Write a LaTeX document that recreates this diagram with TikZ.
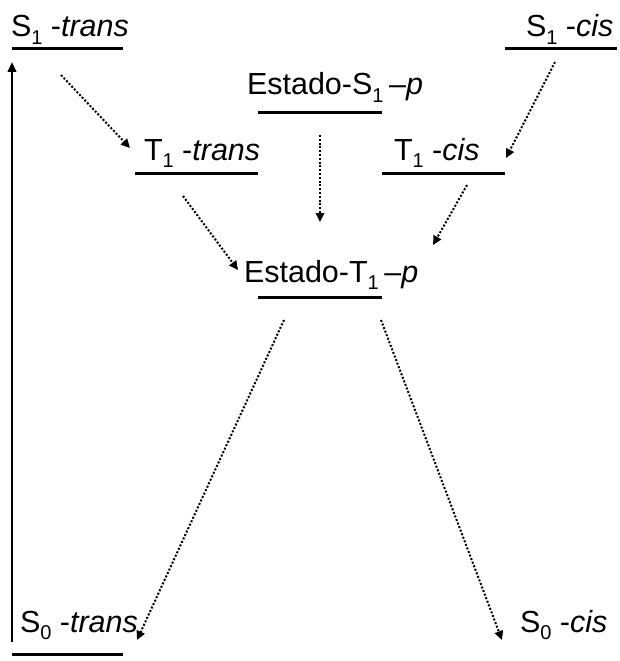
\documentclass[tikz,border=0pt]{standalone}
\usepackage{fontspec}
\setmainfont{Liberation Sans}
\usetikzlibrary{arrows.meta}
\newcommand\lowsub[1]{\raisebox{-0.26em}{\fontsize{20}{22}\selectfont #1}}
\begin{document}
\begin{tikzpicture}[x=1pt,y=-1pt,
  lbl/.style={anchor=base west, inner sep=0, outer sep=0, font=\fontsize{30.5}{36}\selectfont},
  levelline/.style={line width=3pt},
  decay/.style={line width=2pt, dash pattern=on 2pt off 1.8pt, -{Triangle[length=9pt,width=8.5pt]}},
  excite/.style={line width=2.2pt, -{Triangle[length=10pt,width=8.5pt]}}]
\useasboundingbox (0,0) rectangle (619,661);
% labels
\node[lbl] (s1t) at (11,37) {S\lowsub{1}\ -\textit{trans}};
\node[lbl] (s1c) at (526,37) {S\lowsub{1}\ -\textit{cis}};
\node[lbl] (es1) at (247,95) {Estado-S\lowsub{1\ }–\textit{p}};
\node[lbl] (t1t) at (144,160) {T\lowsub{1}\ -\textit{trans}};
\node[lbl] (t1c) at (394,160) {T\lowsub{1}\ -\textit{cis}};
\node[lbl] (et1) at (244,282) {Estado-T\lowsub{1\ }–\textit{p}};
\node[lbl] (s0t) at (20,632) {S\lowsub{0}\ -\textit{trans}};
\node[lbl] (s0c) at (520,632) {S\lowsub{0}\ -\textit{cis}};
% level lines
\draw[levelline] (12,49) -- (123,49);
\draw[levelline] (505,49) -- (617,49);
\draw[levelline] (258,112) -- (382,112);
\draw[levelline] (135,173) -- (258,173);
\draw[levelline] (382,173) -- (505,173);
\draw[levelline] (258,297) -- (382,297);
\draw[levelline] (12,654) -- (123,654);
% connector endpoints
\coordinate (a1) at (61,75);   \coordinate (a2) at (130,148);
\coordinate (b1) at (320,135); \coordinate (b2) at (320,222);
\coordinate (c1) at (555,62);  \coordinate (c2) at (506,158);
\coordinate (d1) at (183,196); \coordinate (d2) at (238,270);
\coordinate (e1) at (467,185); \coordinate (e2) at (433,245);
\coordinate (f1) at (284,320); \coordinate (f2) at (137,640);
\coordinate (g1) at (381,320); \coordinate (g2) at (502,640);
\coordinate (v1) at (12,642);  \coordinate (v2) at (12,62);
% connectors
\draw[excite] (v1) -- (v2);
\draw[decay] (a1) -- (a2);
\draw[decay] (b1) -- (b2);
\draw[decay] (c1) -- (c2);
\draw[decay] (d1) -- (d2);
\draw[decay] (e1) -- (e2);
\draw[decay] (f1) -- (f2);
\draw[decay] (g1) -- (g2);
\end{tikzpicture}
\end{document}
